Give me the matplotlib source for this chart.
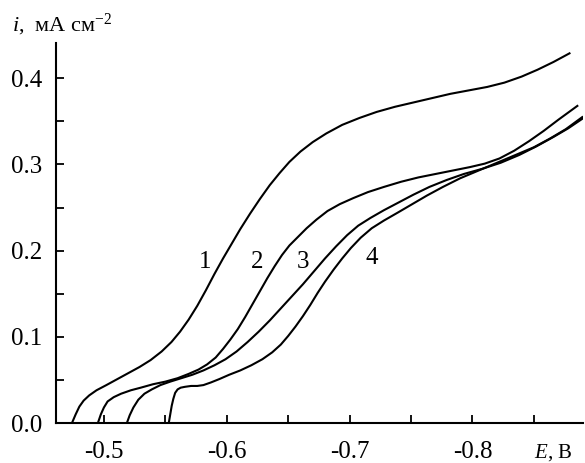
import matplotlib
matplotlib.use("Agg")
import matplotlib.pyplot as plt
from matplotlib.ticker import MultipleLocator, FormatStrFormatter

plt.rcParams['font.family'] = ['Liberation Serif', 'DejaVu Serif']
plt.rcParams['axes.unicode_minus'] = False
plt.rcParams['mathtext.fontset'] = 'custom'
plt.rcParams['mathtext.rm'] = 'Liberation Serif'
plt.rcParams['mathtext.it'] = 'Liberation Serif:italic'

# потенциал E (В) и плотность тока i (мА/см2)
e1 = [-0.474, -0.477, -0.480, -0.4835, -0.488, -0.494, -0.502, -0.511, -0.520, -0.529,
      -0.538, -0.547, -0.555, -0.562, -0.569, -0.576, -0.583, -0.590, -0.597, -0.604,
      -0.611, -0.619, -0.627, -0.635, -0.643, -0.651, -0.660, -0.670, -0.681, -0.694,
      -0.708, -0.722, -0.737, -0.752, -0.767, -0.782, -0.797, -0.812, -0.826, -0.840,
      -0.853, -0.866, -0.879]
i1 = [0.0, 0.010, 0.019, 0.026, 0.032, 0.038, 0.044, 0.051, 0.058, 0.065,
      0.073, 0.083, 0.094, 0.106, 0.120, 0.136, 0.154, 0.173, 0.191, 0.208,
      0.225, 0.243, 0.260, 0.276, 0.290, 0.303, 0.315, 0.326, 0.336, 0.346,
      0.354, 0.361, 0.367, 0.372, 0.377, 0.382, 0.386, 0.390, 0.395, 0.402,
      0.410, 0.419, 0.429]

e2 = [-0.4951, -0.4975, -0.500, -0.503, -0.508, -0.514, -0.522, -0.530, -0.540, -0.550,
      -0.560, -0.569, -0.577, -0.584, -0.591, -0.597, -0.603, -0.609, -0.615, -0.621,
      -0.627, -0.633, -0.639, -0.645, -0.651, -0.658, -0.665, -0.673, -0.682, -0.692,
      -0.703, -0.715, -0.728, -0.742, -0.756, -0.770, -0.784, -0.798, -0.810, -0.822,
      -0.834, -0.846, -0.858, -0.870, -0.8854]
i2 = [0.0, 0.010, 0.018, 0.025, 0.030, 0.034, 0.038, 0.041, 0.045, 0.048,
      0.052, 0.057, 0.062, 0.068, 0.076, 0.086, 0.097, 0.109, 0.123, 0.138,
      0.153, 0.168, 0.182, 0.195, 0.206, 0.216, 0.226, 0.236, 0.246, 0.254,
      0.261, 0.268, 0.274, 0.280, 0.285, 0.289, 0.293, 0.297, 0.301, 0.307,
      0.316, 0.327, 0.339, 0.352, 0.368]

e3 = [-0.5187, -0.521, -0.524, -0.528, -0.533, -0.539, -0.546, -0.554, -0.563, -0.572,
      -0.581, -0.590, -0.599, -0.608, -0.617, -0.626, -0.635, -0.644, -0.653, -0.662,
      -0.671, -0.680, -0.689, -0.698, -0.707, -0.717, -0.728, -0.740, -0.752, -0.765,
      -0.779, -0.793, -0.808, -0.823, -0.838, -0.852, -0.866, -0.878, -0.8894]
i3 = [0.0, 0.009, 0.018, 0.027, 0.034, 0.039, 0.044, 0.048, 0.052, 0.056,
      0.061, 0.067, 0.074, 0.083, 0.094, 0.106, 0.119, 0.133, 0.147, 0.161,
      0.176, 0.191, 0.205, 0.218, 0.229, 0.238, 0.247, 0.256, 0.265, 0.274,
      0.282, 0.289, 0.295, 0.302, 0.311, 0.321, 0.332, 0.342, 0.353]

e4 = [-0.5528, -0.5540, -0.5552, -0.5565, -0.5580, -0.5600, -0.5625, -0.566, -0.571, -0.576,
      -0.581, -0.587, -0.594, -0.602, -0.611, -0.620, -0.629, -0.637, -0.644, -0.650,
      -0.656, -0.662, -0.668, -0.674, -0.680, -0.687, -0.694, -0.701, -0.709, -0.718,
      -0.728, -0.739, -0.751, -0.763, -0.776, -0.790, -0.805, -0.820, -0.835, -0.850,
      -0.863, -0.876, -0.8894]
i4 = [0.0, 0.010, 0.020, 0.028, 0.035, 0.039, 0.041, 0.042, 0.043, 0.043,
      0.044, 0.047, 0.051, 0.056, 0.061, 0.067, 0.074, 0.082, 0.091, 0.101,
      0.112, 0.124, 0.137, 0.151, 0.164, 0.178, 0.191, 0.203, 0.215, 0.226,
      0.235, 0.244, 0.254, 0.264, 0.274, 0.284, 0.293, 0.302, 0.311, 0.320,
      0.330, 0.341, 0.355]

curve_labels = ['1', '2', '3', '4']
label_e = [-0.5821, -0.6244, -0.6618, -0.7179]
label_i = [0.187, 0.187, 0.187, 0.192]

fig = plt.figure(figsize=(5.85, 4.63), dpi=100)
ax = fig.add_axes([56 / 585, 40 / 463, (583 - 56) / 585, (423 - 43) / 463])

for e, i in [(e1, i1), (e2, i2), (e3, i3), (e4, i4)]:
    ax.plot(e, i, color='black', lw=1.5)

for t, x, y in zip(curve_labels, label_e, label_i):
    ax.text(x, y, t, fontsize=18, ha='center', va='center')

ax.set_xlim(-0.461, -0.890)
ax.set_ylim(0, 0.441)

ax.spines['top'].set_visible(False)
ax.spines['right'].set_visible(False)
ax.spines['left'].set_linewidth(1.5)
ax.spines['bottom'].set_linewidth(1.5)

ax.xaxis.set_major_locator(MultipleLocator(0.1))
ax.xaxis.set_minor_locator(MultipleLocator(0.05))
ax.yaxis.set_major_locator(MultipleLocator(0.1))
ax.yaxis.set_minor_locator(MultipleLocator(0.05))
ax.xaxis.set_major_formatter(FormatStrFormatter('%.1f'))
ax.yaxis.set_major_formatter(FormatStrFormatter('%.1f'))
ax.set_xticks([-0.5, -0.6, -0.7, -0.8])

ax.tick_params(which='both', direction='in', length=6, width=1.3, labelsize=18)
ax.tick_params(axis='x', which='both', pad=13)
ax.tick_params(axis='y', which='both', pad=10)

fig.text(12 / 585, 1 - 31 / 463, r'$i$,  мА см$^{-2}$', fontsize=16, ha='left', va='baseline')
fig.text(534 / 585, 1 - 458 / 463, r'$E$, В', fontsize=15, ha='left', va='baseline')

fig.savefig('out.png', dpi=100)
